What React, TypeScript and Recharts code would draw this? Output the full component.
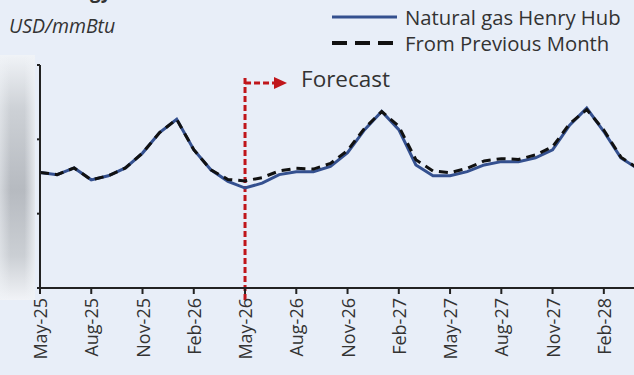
import React from "react";
import { LineChart, Line, XAxis, YAxis, ReferenceLine } from "recharts";

// Monthly labels, May-25 .. Apr-28
const months: string[] = [
  "May-25", "Jun-25", "Jul-25", "Aug-25", "Sep-25", "Oct-25", "Nov-25", "Dec-25",
  "Jan-26", "Feb-26", "Mar-26", "Apr-26", "May-26", "Jun-26", "Jul-26", "Aug-26",
  "Sep-26", "Oct-26", "Nov-26", "Dec-26", "Jan-27", "Feb-27", "Mar-27", "Apr-27",
  "May-27", "Jun-27", "Jul-27", "Aug-27", "Sep-27", "Oct-27", "Nov-27", "Dec-27",
  "Jan-28", "Feb-28", "Mar-28", "Apr-28",
];

// Natural gas Henry Hub, USD/mmBtu
const henryHub: number[] = [
  3.11, 3.05, 3.23, 2.91, 3.02, 3.23, 3.63, 4.18,
  4.54, 3.72, 3.18, 2.87, 2.69, 2.82, 3.05, 3.13,
  3.13, 3.27, 3.64, 4.26, 4.75, 4.26, 3.31, 3.02,
  3.02, 3.13, 3.31, 3.4, 3.4, 3.5, 3.72, 4.38,
  4.84, 4.21, 3.5, 3.21,
];

// Previous month's forecast, USD/mmBtu
const previousMonth: number[] = [
  3.11, 3.05, 3.23, 2.91, 3.02, 3.23, 3.63, 4.18,
  4.54, 3.72, 3.18, 2.92, 2.88, 2.97, 3.15, 3.22,
  3.2, 3.35, 3.7, 4.3, 4.75, 4.35, 3.45, 3.15,
  3.1, 3.22, 3.42, 3.48, 3.46, 3.58, 3.8, 4.42,
  4.8, 4.25, 3.52, 3.22,
];

const yTicks: number[] = [0, 2, 4, 6];
const forecastStart = "May-26";

const data = months.map((m, i) => ({
  month: m,
  hh: henryHub[i],
  prev: previousMonth[i],
}));

const FONT = "'Open Sans', 'Noto Sans', sans-serif";
const TEXT = "#333333";
const BLUE = "#34508f";
const RED = "#c0161b";

const MonthTick = (props: any) => {
  const { x, y, payload } = props;
  return (
    <g transform={`translate(${x},${y})`}>
      <text
        transform="rotate(-90)"
        x={0}
        y={0}
        textAnchor="end"
        dominantBaseline="central"
        fontSize={18}
        fontFamily={FONT}
        fill={TEXT}
      >
        {payload.value}
      </text>
    </g>
  );
};

const ForecastMarker = (props: any) => {
  const { x1, y1, y2 } = props;
  const x = x1;
  const top = Math.min(y1, y2) + 13;
  const bottom = Math.max(y1, y2) + 12;
  const ay = top + 5;
  return (
    <g>
      <line x1={x} y1={top} x2={x} y2={bottom} stroke={RED} strokeWidth={3} strokeDasharray="6 3" />
      <line x1={x} y1={ay} x2={x + 30} y2={ay} stroke={RED} strokeWidth={3} strokeDasharray="6 3" />
      <polygon points={`${x + 29},${ay - 6} ${x + 42},${ay} ${x + 29},${ay + 6}`} fill={RED} />
      <text
        x={x + 56}
        y={top}
        dominantBaseline="central"
        fontSize={22.5}
        fontFamily={FONT}
        fill={TEXT}
      >
        Forecast
      </text>
    </g>
  );
};

const LegendBox = () => (
  <div
    style={{
      position: "absolute",
      left: 330,
      top: 4,
      fontFamily: FONT,
      fontSize: 20.3,
      color: TEXT,
      lineHeight: "26px",
    }}
  >
    <div style={{ display: "flex", alignItems: "center", whiteSpace: "nowrap" }}>
      <svg width={75} height={20}>
        <line x1={2} y1={10} x2={67} y2={10} stroke={BLUE} strokeWidth={3} />
      </svg>
      <span>Natural gas Henry Hub</span>
    </div>
    <div style={{ display: "flex", alignItems: "center", whiteSpace: "nowrap" }}>
      <svg width={75} height={20}>
        <line x1={2} y1={10} x2={67} y2={10} stroke="#111" strokeWidth={4} strokeDasharray="15 8" />
      </svg>
      <span>From Previous Month</span>
    </div>
  </div>
);

export default function App() {
  return (
    <div
      style={{
        position: "absolute",
        left: 0,
        top: 0,
        width: 634,
        height: 375,
        overflow: "hidden",
        background: "#e8eef8",
      }}
    >
      <div
        style={{
          position: "absolute",
          left: 47,
          top: -21,
          fontFamily: FONT,
          fontSize: 19,
          fontWeight: 700,
          color: TEXT,
          lineHeight: "24px",
        }}
      >
        Energy
      </div>
      <div
        style={{
          position: "absolute",
          left: 9,
          top: 12,
          fontFamily: FONT,
          fontSize: 19.5,
          fontStyle: "italic",
          color: TEXT,
          lineHeight: "28px",
        }}
      >
        USD/mmBtu
      </div>
      <LegendBox />
      <LineChart
        width={660}
        height={375}
        data={data}
        margin={{ top: 65, right: 22, bottom: 0, left: 0 }}
      >
        <XAxis
          dataKey="month"
          interval={2}
          height={87}
          tick={<MonthTick />}
          tickSize={6}
          tickMargin={4}
          axisLine={{ stroke: "#222", strokeWidth: 2 }}
          tickLine={{ stroke: "#222", strokeWidth: 2 }}
        />
        <YAxis
          width={40}
          domain={[0, 6]}
          ticks={yTicks}
          tick={() => <g />}
          tickSize={3}
          axisLine={{ stroke: "#222", strokeWidth: 2 }}
          tickLine={{ stroke: "#222", strokeWidth: 2 }}
        />
        <ReferenceLine x={forecastStart} shape={<ForecastMarker />} />
        <Line
          type="linear"
          dataKey="hh"
          stroke={BLUE}
          strokeWidth={3}
          dot={false}
          isAnimationActive={false}
        />
        <Line
          type="linear"
          dataKey="prev"
          stroke="#111"
          strokeWidth={3}
          strokeDasharray="9 6"
          dot={false}
          isAnimationActive={false}
        />
      </LineChart>
      <div
        style={{
          position: "absolute",
          left: 0,
          top: 55,
          width: 35,
          height: 245,
          background:
            "linear-gradient(to bottom, #f0f3f7 0%, #cdd1d6 22%, #b6bac0 55%, #cbcfd4 82%, #f1f3f7 100%)",
        }}
      />
      <div
        style={{
          position: "absolute",
          left: 0,
          top: 55,
          width: 35,
          height: 245,
          background:
            "linear-gradient(to right, rgba(240,243,247,0.5) 0%, rgba(240,243,247,0) 30%, rgba(240,243,247,0) 70%, rgba(240,243,247,0.8) 100%)",
        }}
      />
    </div>
  );
}
